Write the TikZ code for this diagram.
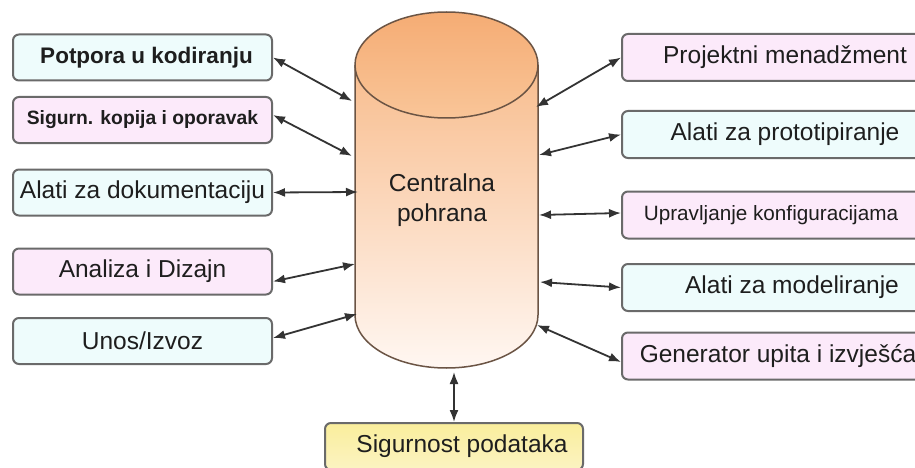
\documentclass[tikz,border=0pt]{standalone}
\usepackage{fontspec}
\setmainfont{Liberation Sans}
\usetikzlibrary{arrows.meta}
\definecolor{bordc}{HTML}{6A6A6A}
\definecolor{cyanf}{HTML}{EEFCFC}
\definecolor{pinkf}{HTML}{FCEAFA}
\definecolor{yelf}{HTML}{FAEE9C}
\definecolor{yelf2}{HTML}{FBF3C2}
\definecolor{arrc}{HTML}{333333}
\definecolor{txtc}{HTML}{1E1E1E}
\definecolor{cyloutline}{HTML}{6B5444}
\definecolor{toptop}{HTML}{F5AC74}
\definecolor{topbot}{HTML}{F9C598}
\definecolor{bodytop}{HTML}{F8BD8E}
\definecolor{bodybot}{HTML}{FFF7F2}
\begin{document}
\begin{tikzpicture}[x=1pt,y=1pt,
  box/.style={draw=bordc, line width=2pt, rounded corners=6pt, inner sep=0pt,
    text=txtc, font=\fontsize{24.5}{28}\selectfont},
  lbox/.style={box, minimum width=259pt, minimum height=46pt},
  rbox/.style={box, minimum width=326pt, minimum height=47pt},
  cyanbox/.style={fill=cyanf},
  pinkbox/.style={fill=pinkf},
  arr/.style={{Latex[length=12pt,width=9pt]}-{Latex[length=12pt,width=9pt]}, draw=arrc, line width=1.8pt}]
\useasboundingbox (0,0) rectangle (915,-468);
\clip (0,0) rectangle (915,-468);
\fill[white] (0,0) rectangle (915,-468);

% cylinder
\shade[top color=bodytop, bottom color=bodybot]
  (355,-65) -- (355,-315) arc[start angle=180, end angle=360, x radius=91.5pt, y radius=53pt] -- (538,-65) -- cycle;
\draw[cyloutline, line width=1.5pt]
  (355,-65) -- (355,-315) arc[start angle=180, end angle=360, x radius=91.5pt, y radius=53pt] -- (538,-65);
\shade[top color=toptop, bottom color=topbot] (446.5,-65) ellipse [x radius=91.5pt, y radius=53pt];
\draw[cyloutline, line width=1.5pt] (446.5,-65) ellipse [x radius=91.5pt, y radius=53pt];
\node (cyl) at (446.5,-190) [minimum width=183pt, minimum height=356pt, inner sep=0pt] {};
\node (ctext) at (442,-200) [align=center, text=txtc, font=\fontsize{24.5}{30}\selectfont] {Centralna\\pohrana};

% attachment points on the cylinder
\coordinate (c1) at (352,-101);
\coordinate (c2) at (352,-156);
\coordinate (c3) at (358,-192);
\coordinate (c4) at (355,-264);
\coordinate (c5) at (357,-314);
\coordinate (d1) at (536,-107);
\coordinate (d2) at (539,-155);
\coordinate (d3) at (539,-215);
\coordinate (d4) at (540,-282);
\coordinate (d5) at (537,-325);
\coordinate (cb) at (454,-372);

% left boxes
\node[lbox, cyanbox, font=\bfseries\fontsize{22.5}{26}\selectfont] (L1) at (142.5,-57.5) {\hspace*{8pt}Potpora u kodiranju};
\node[lbox, pinkbox, font=\bfseries\fontsize{19.3}{22}\selectfont] (L2) at (142.5,-120) {Sigurn. kopija i oporavak};
\node[lbox, cyanbox] (L3) at (142.5,-192.5) {Alati za dokumentaciju};
\node[lbox, pinkbox] (L4) at (142.5,-271.5) {Analiza i Dizajn};
\node[lbox, cyanbox] (L5) at (142.5,-341) {Unos/Izvoz};

% right boxes
\node[rbox, pinkbox] (R1) at (785,-57.5) {Projektni menadžment};
\node[rbox, cyanbox] (R2) at (785,-134.5) {Alati za prototipiranje};
\node[rbox, pinkbox, font=\fontsize{20.7}{24}\selectfont] (R3) at (785,-215) {\hspace*{-28pt}Upravljanje konfiguracijama};
\node[rbox, cyanbox] (R4) at (785,-287.5) {\hspace*{14pt}Alati za modeliranje};
\node[rbox, pinkbox] (R5) at (785,-356) {\hspace*{-14pt}Generator upita i izvješća};

% bottom box
\node[box, top color=yelf, bottom color=yelf2, minimum width=258pt, minimum height=47pt] (B) at (454,-446.5) {\hspace*{16pt}Sigurnost podataka};

% connectors
\draw[arr] (L1.east) -- (c1);
\draw[arr] ([yshift=5pt]L2.east) -- (c2);
\draw[arr] (L3.east) -- (c3);
\draw[arr] ([yshift=-10pt]L4.east) -- (c4);
\draw[arr] ([yshift=3pt]L5.east) -- (c5);
\draw[arr] (d1) -- (R1.west);
\draw[arr] (d2) -- (R2.west);
\draw[arr] (d3) -- ([yshift=2pt]R3.west);
\draw[arr] (d4) -- (R4.west);
\draw[arr] (d5) -- ([yshift=-6pt]R5.west);
\draw[arr] (cb) -- (B.north);
\end{tikzpicture}
\end{document}
